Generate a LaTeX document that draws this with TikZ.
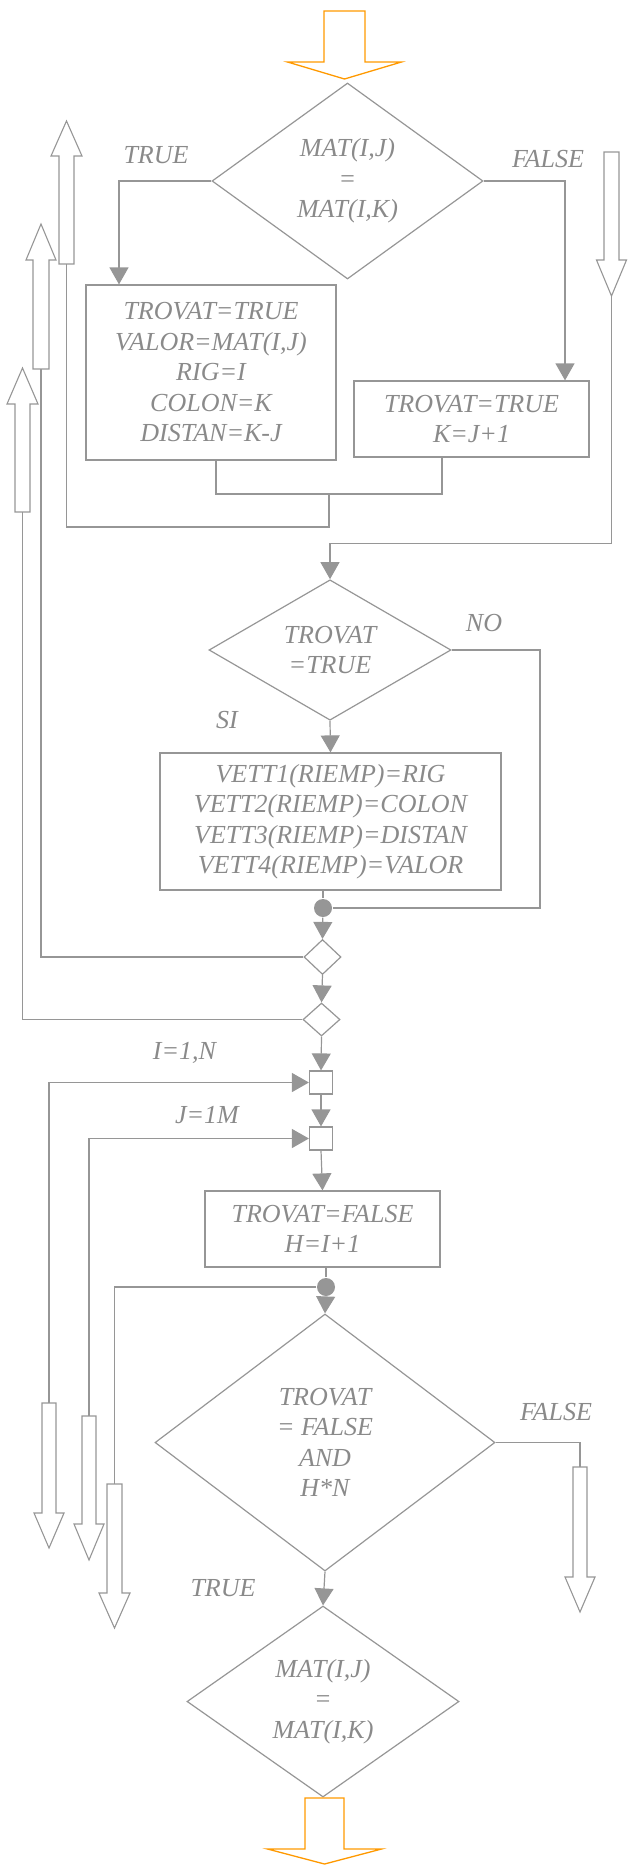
\documentclass[tikz,border=0pt]{standalone}
\usepackage{fontspec}
\setmainfont{Liberation Serif}
\usetikzlibrary{arrows.meta,shapes.geometric,calc}
\definecolor{flowgray}{RGB}{150,150,150}
\definecolor{labelgray}{RGB}{138,138,138}
\definecolor{termorange}{RGB}{255,153,0}

% block arrows: [style]{tail}{shaft half width}{head half width}{shaft length}{head length}
\newcommand{\blockdown}[6][bigarrow]{%
  \draw[#1] (#2) ++(-#3,0) -- ++(0,#5) -- ++({-(#4-#3)},0) -- ++(#4,#6)
    -- ++(#4,-#6) -- ++({-(#4-#3)},0) -- ++(0,-#5) -- cycle;}
\newcommand{\blockup}[6][bigarrow]{%
  \draw[#1] (#2) ++(-#3,0) -- ++(0,-#5) -- ++({-(#4-#3)},0) -- ++(#4,-#6)
    -- ++(#4,#6) -- ++({-(#4-#3)},0) -- ++(0,#5) -- cycle;}

\begin{document}
\begin{tikzpicture}[
   x=1pt, y=-1pt,
   >={Triangle[length=17pt,width=19pt]},
   line width=1.2pt,
   every node/.style={font=\itshape\fontsize{26}{30.5}\selectfont,text=labelgray},
   box/.style={draw=flowgray,rectangle,align=center,inner sep=0pt},
   decision/.style={draw=flowgray,diamond,align=center,inner sep=0pt},
   smalltest/.style={draw=flowgray,diamond,inner sep=0pt,minimum width=37pt,minimum height=35pt},
   loopbox/.style={draw=flowgray,rectangle,inner sep=0pt,minimum size=23pt},
   dotjoin/.style={circle,fill=flowgray,inner sep=0pt,minimum size=18pt},
   wire/.style={draw=flowgray},
   flow/.style={wire,->},
   bigarrow/.style={draw=flowgray,line width=1.1pt},
   termarrow/.style={draw=termorange,line width=1.3pt},
   ]
\useasboundingbox (0,0) rectangle (627,1865);
%% first comparison and its branches
\node[decision,minimum width=271pt,minimum height=196pt] (cmp1) at (347.5,181) {MAT(I,J)\\=\\MAT(I,K)};
\node[box,minimum width=250pt,minimum height=175pt] (found) at (211,372.5)
   {TROVAT=TRUE\\VALOR=MAT(I,J)\\RIG=I\\COLON=K\\DISTAN=K-J};
\node[box,minimum width=235pt,minimum height=76pt] (next) at (471.5,419) {TROVAT=TRUE\\K=J+1};
%% store block
\node[decision,minimum width=242pt,minimum height=134pt] (chk) at (330,650) {TROVAT\\=TRUE};
\node[box,minimum width=341pt,minimum height=137pt] (store) at (330.5,821.5)
   {VETT1(RIEMP)=RIG\\VETT2(RIEMP)=COLON\\VETT3(RIEMP)=DISTAN\\VETT4(RIEMP)=VALOR};
\node[dotjoin] (j1) at (323,908) {};
\node[smalltest] (endj) at (322.5,957) {};
\node[smalltest,minimum height=33pt] (endi) at (321.5,1019.5) {};
%% loops
\node[loopbox] (loopi) at (321,1082.5) {};
\node[loopbox] (loopj) at (321,1138.5) {};
\node[box,minimum width=235pt,minimum height=76pt] (init) at (322.5,1229) {TROVAT=FALSE\\H=I+1};
\node[dotjoin] (j2) at (326,1287) {};
\node[decision,minimum width=340pt,minimum height=257pt] (cond) at (325,1442.5) {TROVAT\\= FALSE\\AND\\H*N};
\node[decision,minimum width=272pt,minimum height=191pt] (cmp2) at (323,1701.5) {MAT(I,J)\\=\\MAT(I,K)};
%% branch labels
\node (ltrue1) at (156,155) {TRUE};
\node (lfalse1) at (548,159) {FALSE};
\node (lno) at (484,623) {NO};
\node (lsi) at (227,720) {SI};
\node (li) at (184.5,1053) {I=1,N};
\node (lj) at (207,1115) {J=1M};
\node (lfalse2) at (556,1412) {FALSE};
\node (ltrue2) at (223,1588) {TRUE};
%% block arrow ends
\coordinate (startarr) at (344.5,11);
\coordinate (endarr) at (324.5,1798);
\coordinate (up1) at (66.5,264);
\coordinate (up2) at (41,369);
\coordinate (up3) at (22.5,512);
\coordinate (dn1) at (611.5,152);
\coordinate (dn1end) at (611.5,296);
\coordinate (dn2) at (49,1403);
\coordinate (dn3) at (89,1416);
\coordinate (dn4) at (114.5,1484);
\coordinate (dn5) at (580,1467);
\coordinate (merge) at (329,494);
\blockdown[termarrow]{startarr}{20.5}{57}{51}{17}
\blockup{up1}{7.5}{15.5}{108}{35}
\blockup{up2}{8}{15}{109}{36}
\blockup{up3}{7.5}{15.5}{108}{36}
\blockdown{dn1}{7.5}{15}{108}{36}
\blockdown{dn2}{7}{15}{110}{35}
\blockdown{dn3}{7}{15}{108}{36}
\blockdown{dn4}{7.5}{15.5}{109}{35}
\blockdown{dn5}{7}{15}{110}{35}
\blockdown[termarrow]{endarr}{19.5}{57}{51}{15}
%% connectors
\draw[flow] (cmp1.west) -| ([xshift=-92pt]found.north);
\draw[flow] (cmp1.east) -| ([xshift=93.5pt]next.north);
\draw[wire] ([xshift=5pt]found.south) |- (merge) -| ([xshift=-29.5pt]next.south);
\draw[wire] (merge) -- ++(0,33) -| (up1);
\draw[flow] (dn1end) |- ([yshift=36pt]chk.north) -- (chk.north);
\draw[wire] (chk.east) -| ([xshift=217pt]j1.center) -- (j1);
\draw[flow] (chk.south) -- (store.north);
\draw[wire] (store.south -| j1) -- (j1);
\draw[flow] (j1) -- (endj.north);
\draw[wire] (endj.west) -| (up2);
\draw[flow] (endj.south) -- (endi.north);
\draw[wire] (endi.west) -| (up3);
\draw[flow] (endi.south) -- (loopi.north);
\draw[flow] (dn2) |- (loopi.west);
\draw[flow] (loopi.south) -- (loopj.north);
\draw[flow] (dn3) |- (loopj.west);
\draw[flow] (loopj.south) -- (init.north);
\draw[wire] (init.south -| j2) -- (j2);
\draw[wire] (j2) -| (dn4);
\draw[flow] (j2) -- (cond.north);
\draw[wire] (cond.east) -| (dn5);
\draw[flow] (cond.south) -- (cmp2.north);
\end{tikzpicture}
\end{document}
